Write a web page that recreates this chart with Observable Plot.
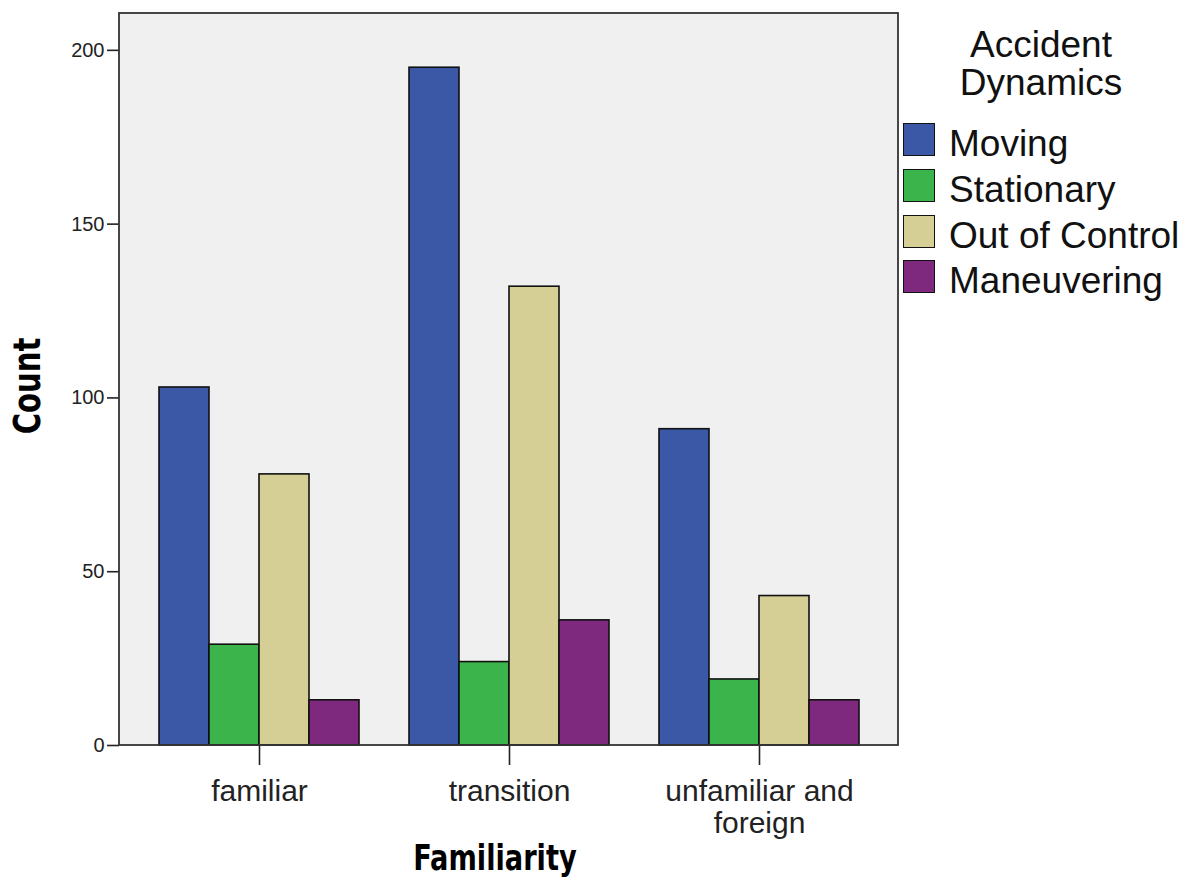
<!DOCTYPE html>
<html>
<head>
<meta charset="utf-8">
<script src="https://cdn.jsdelivr.net/npm/d3@7"></script>
<script src="https://cdn.jsdelivr.net/npm/@observablehq/plot@0.6"></script>
<style>
  html, body { margin: 0; padding: 0; background: #fff; }
  #chart { position: relative; width: 1187px; height: 880px; overflow: hidden; font-family: "Liberation Sans", Arial, sans-serif; }
  #chart svg { position: absolute; left: 0; top: 0; }
  .axis-title { position: absolute; font-family: "DejaVu Sans Condensed", "Liberation Sans Narrow", "DejaVu Sans", sans-serif; font-weight: bold; color: #000; white-space: nowrap; line-height: 1; }
  #legend { position: absolute; left: 903px; top: 26px; width: 284px; color: #111; }
  #legend .title { text-align: center; font-size: 37px; line-height: 38px; width: 280px; margin-left: -2px; }
  #legend .item { position: absolute; left: 0; height: 34px; display: flex; align-items: center; }
  #legend .sw { width: 30px; height: 31px; border: 1.6px solid #111; box-sizing: content-box; flex: none; }
  #legend .lab { margin-left: 14px; font-size: 37px; line-height: 34px; white-space: nowrap; padding-top: 10px; }
</style>
</head>
<body>
<div id="chart"></div>
<script>
// ---- data ----
const familiarity = ["familiar", "transition", "unfamiliar and foreign"];
const familiarityTickLabels = ["familiar", "transition", "unfamiliar and\nforeign"];
const dynamics = ["Moving", "Stationary", "Out of Control", "Maneuvering"];
const moving = [103, 195, 91];
const stationary = [29, 24, 19];
const outOfControl = [78, 132, 43];
const maneuvering = [13, 36, 13];
const dynamicsColors = ["#3b58a6", "#3bb54b", "#d5cf96", "#7e297d"];
const yTicks = [0, 50, 100, 150, 200];
const legendTitle = ["Accident", "Dynamics"];
const xTitle = "Familiarity";
const yTitle = "Count";

const seriesValues = [moving, stationary, outOfControl, maneuvering];
const data = [];
familiarity.forEach((f, i) => {
  dynamics.forEach((d, j) => {
    data.push({familiarity: f, dynamic: d, count: seriesValues[j][i]});
  });
});

// ---- layout ----
const W = 1187, H = 880;
const mL = 119, mR = 289, mT = 13, mB = 135;
const fxPadInner = 0.2, fxPadOuter = 0.158;
const fxStep = (W - mL - mR) / (familiarity.length - fxPadInner + 2 * fxPadOuter);
const yAxisShift = -Math.round(fxPadOuter * fxStep); // move y axis from first facet edge to the plot frame edge

const plot = Plot.plot({
  width: W,
  height: H,
  marginLeft: mL,
  marginRight: mR,
  marginTop: mT,
  marginBottom: mB,
  style: {fontFamily: "'Liberation Sans', Arial, sans-serif"},
  facet: {data, x: "familiarity"},
  fx: {domain: familiarity, paddingInner: fxPadInner, paddingOuter: fxPadOuter},
  x: {domain: dynamics, padding: 0, axis: null},
  y: {domain: [0, 210.6], label: null},
  color: {domain: dynamics, range: dynamicsColors},
  marks: [
    Plot.barY(data, {x: "dynamic", y: "count", fill: "dynamic", stroke: "#111", strokeWidth: 1.6}),
    Plot.axisFx({
      anchor: "bottom",
      label: null,
      tickSize: 20,
      tickPadding: 12,
      fontSize: 30,
      lineHeight: 1.08,
      color: "#222",
      tickFormat: d => familiarityTickLabels[familiarity.indexOf(d)]
    }),
    Plot.axisY({
      ticks: yTicks,
      tickSize: 12,
      tickPadding: 3,
      fontSize: 20,
      color: "#222",
      dx: yAxisShift,
      label: null
    })
  ]
});

// plot-area background and border
const svg = d3.select(plot);
svg.insert("rect", ":first-child")
  .attr("x", mL).attr("y", mT)
  .attr("width", W - mL - mR).attr("height", H - mT - mB)
  .attr("fill", "#f0f0f0");
svg.append("rect")
  .attr("x", mL).attr("y", mT)
  .attr("width", W - mL - mR).attr("height", H - mT - mB)
  .attr("fill", "none").attr("stroke", "#333").attr("stroke-width", 1.8);
// heavier tick lines
svg.selectAll('g[aria-label="y-axis tick"], g[aria-label="fx-axis tick"]')
  .attr("stroke-width", 1.6).attr("stroke", "#333");

const chart = document.getElementById("chart");
chart.appendChild(plot);

// axis titles
const xt = document.createElement("div");
xt.className = "axis-title";
xt.textContent = xTitle;
xt.style.fontSize = "34px";
xt.style.left = "495px";
xt.style.top = "840px";
xt.style.transform = "translateX(-50%) scaleX(0.89) scaleY(1.05)";
chart.appendChild(xt);

const yt = document.createElement("div");
yt.className = "axis-title";
yt.textContent = yTitle;
yt.style.fontSize = "38px";
yt.style.left = "27px";
yt.style.top = "386px";
yt.style.transformOrigin = "0 0";
yt.style.transform = "rotate(-90deg) scaleX(0.85) translate(-50%, -50%)";
chart.appendChild(yt);

// legend
const legend = document.createElement("div");
legend.id = "legend";
const lt = document.createElement("div");
lt.className = "title";
lt.innerHTML = legendTitle.map(s => `<div>${s}</div>`).join("");
legend.appendChild(lt);
const itemTops = [96, 142, 188, 233];
dynamics.forEach((d, i) => {
  const it = document.createElement("div");
  it.className = "item";
  it.style.top = itemTops[i] + "px";
  const sw = document.createElement("div");
  sw.className = "sw";
  sw.style.background = dynamicsColors[i];
  const lab = document.createElement("div");
  lab.className = "lab";
  lab.textContent = d;
  it.appendChild(sw);
  it.appendChild(lab);
  legend.appendChild(it);
});
chart.appendChild(legend);
</script>
</body>
</html>
